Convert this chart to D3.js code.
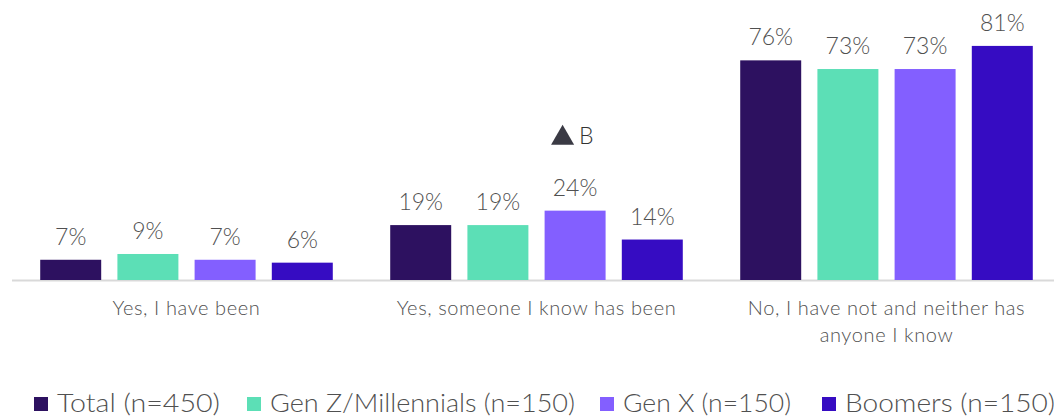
<!DOCTYPE html>
<html>
<head>
<meta charset="utf-8">
<script src="https://cdn.jsdelivr.net/npm/d3@7"></script>
<style>
  body { margin: 0; background: #fff; }
  text { font-family: Lato, "Open Sans", sans-serif; font-weight: 300; }
</style>
</head>
<body>
<div id="content"></div>
<script>
const categories = ['Yes, I have been', 'Yes, someone I know has been', 'No, I have not and neither has anyone I know'];
const seriesNames = ['Total (n=450)', 'Gen Z/Millennials (n=150)', 'Gen X (n=150)', 'Boomers (n=150)'];
const totalVals = [7, 19, 76];
const genZVals = [9, 19, 73];
const genXVals = [7, 24, 73];
const boomerVals = [6, 14, 81];
const colors = ['#2d1160', '#5cdfb6', '#835fff', '#360cc2'];
// significance flag: Gen X on "someone I know" is higher than Boomers (B)
const sigMarks = [{ series: 'Gen X (n=150)', category: 'Yes, someone I know has been', text: 'B' }];

var app = {};
app.width = 1054;
app.height = 420;

var allVals = [totalVals, genZVals, genXVals, boomerVals];
app.data = [];
categories.forEach((c, ci) => {
  seriesNames.forEach((s, si) => {
    app.data.push({ category: c, series: s, value: allVals[si][ci] });
  });
});

app.x0 = d3.scaleBand().domain(categories).range([11.5, 1061.5]);
app.x1 = d3.scaleBand().domain(seriesNames)
           .range([0, app.x0.bandwidth()])
           .paddingInner(0.21).paddingOuter(0.372);
app.y = d3.scaleLinear().domain([0, 100]).range([280, -9]);
app.color = d3.scaleOrdinal().domain(seriesNames).range(colors);

app.svg = d3.select('#content').append('svg')
            .attr('width', app.width)
            .attr('height', app.height);

// baseline
app.svg.append('line')
   .attr('x1', 12).attr('x2', app.width)
   .attr('y1', app.y(0) + 0.5).attr('y2', app.y(0) + 0.5)
   .attr('stroke', '#d9d9d9').attr('stroke-width', 2);

app.bars = app.svg.append('g').selectAll('rect')
   .data(app.data).enter();

app.bars.append('rect')
   .attr('x', d => app.x0(d.category) + app.x1(d.series))
   .attr('y', d => app.y(d.value))
   .attr('width', app.x1.bandwidth())
   .attr('height', d => app.y(0) - app.y(d.value))
   .attr('fill', d => app.color(d.series));

app.bars.append('text')
   .attr('x', d => app.x0(d.category) + app.x1(d.series) + app.x1.bandwidth() / 2)
   .attr('y', d => app.y(d.value) - 15)
   .attr('text-anchor', 'middle')
   .attr('fill', '#505050')
   .style('font-size', '23px')
   .text(d => d.value + '%');

// significance markers
sigMarks.forEach(m => {
  var d = app.data.find(e => e.series === m.series && e.category === m.category);
  var cx = app.x0(d.category) + app.x1(d.series) + app.x1.bandwidth() / 2;
  var yb = app.y(d.value) - 67;
  app.svg.append('path')
     .attr('d', d3.symbol().type(d3.symbolTriangle).size(230)())
     .attr('transform', `translate(${cx - 12.5}, ${yb - 5.5})`)
     .attr('fill', '#3a3a44');
  app.svg.append('text')
     .attr('x', cx + 4).attr('y', yb)
     .attr('fill', '#333')
     .style('font-size', '23px')
     .text(m.text);
});

// category labels, wrapped
function wrap(sel, width) {
  sel.each(function() {
    var t = d3.select(this), words = t.text().split(' '), line = [], n = 0;
    var x = t.attr('x'), y = t.attr('y');
    var tspan = t.text(null).append('tspan').attr('x', x).attr('y', y);
    words.forEach(w => {
      line.push(w);
      tspan.text(line.join(' '));
      if (tspan.node().getComputedTextLength() > width && line.length > 1) {
        line.pop();
        tspan.text(line.join(' '));
        line = [w];
        n++;
        tspan = t.append('tspan').attr('x', x).attr('y', +y + n * 27).text(w);
      }
    });
  });
}

app.svg.append('g').selectAll('text')
   .data(categories).enter()
   .append('text')
   .attr('x', d => app.x0(d) + app.x0.bandwidth() / 2)
   .attr('y', 315)
   .attr('text-anchor', 'middle')
   .attr('fill', '#505050')
   .style('font-size', '20px')
   .style('letter-spacing', '0.6px')
   .text(d => d)
   .call(wrap, 300);

// legend
var legendX = [34, 247, 600, 822];
var legendW = [163, 305, 168, 210];
var legend = app.svg.append('g').selectAll('g')
   .data(seriesNames).enter()
   .append('g')
   .attr('transform', (d, i) => `translate(${legendX[i]}, 0)`);

legend.append('rect')
   .attr('x', 0).attr('y', 397)
   .attr('width', 14).attr('height', 14)
   .attr('fill', d => app.color(d));

legend.append('text')
   .attr('x', 23).attr('y', 412)
   .attr('fill', '#505050')
   .style('font-size', '25px')
   .attr('textLength', (d, i) => legendW[i])
   .attr('lengthAdjust', 'spacingAndGlyphs')
   .text(d => d);
</script>
</body>
</html>
